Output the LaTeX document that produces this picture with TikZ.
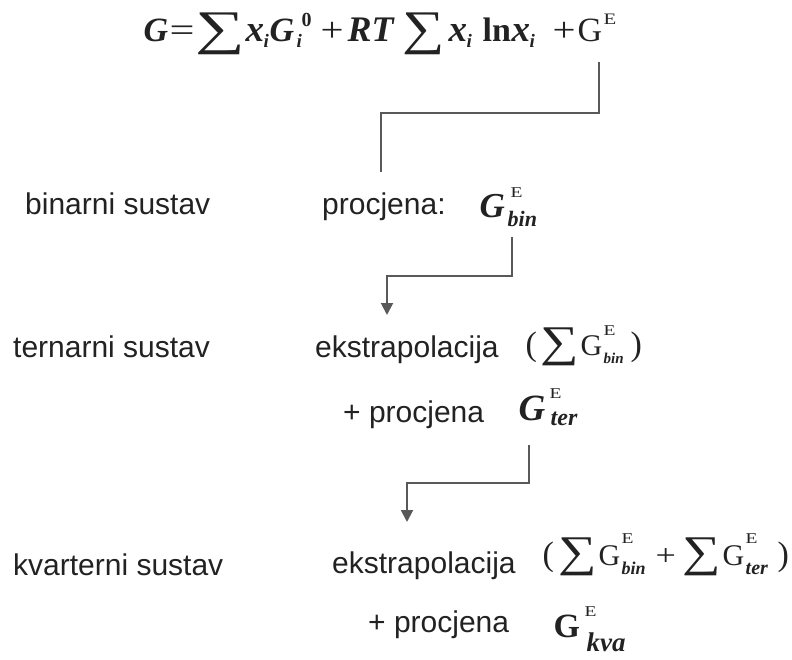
\documentclass[tikz,border=0pt]{standalone}
\usepackage{graphicx}
\usepackage{fontspec}
\setmainfont{Liberation Sans}
\newfontfamily\tnr{Liberation Serif}
\usetikzlibrary{arrows.meta}
% place #2 at horizontal offset #1 (zero width)
\newcommand\at[2]{\rlap{\hspace{#1}#2}}
\newcommand\fs[1]{\fontsize{#1}{#1}\selectfont}
\newcommand\bi{\tnr\bfseries\itshape}
\newcommand\Sg[4]{\raisebox{#4}{\scalebox{#2}[#3]{\tnr\fs{#1}∑}}}
\newcommand\Ex[1]{\scalebox{1.3}[1]{\tnr\fs{#1}E}}
\definecolor{ink}{HTML}{222222}
\definecolor{wire}{HTML}{595959}
\tikzset{
  lbl/.style={inner sep=0pt, anchor=base west, text=ink, font=\fontsize{30}{36}\selectfont},
  mth/.style={inner sep=0pt, anchor=base west, text=ink},
  conn/.style={draw=wire, line width=2pt},
  arr/.style={conn, -{Triangle[length=12pt,width=12pt]}}
}
\begin{document}
\begin{tikzpicture}[x=1pt,y=-1pt]
\useasboundingbox (0,0) rectangle (792,660);
% top equation
\node[mth] (eq) at (143,42) {%
  \at{0pt}{\bi\fs{34}G}%
  \at{26pt}{\scalebox{1.3}[1]{\tnr\fs{34}=}}%
  \at{52pt}{\Sg{34}{2.05}{1.42}{-3pt}}%
  \at{102pt}{\bi\fs{37}x}\at{120pt}{\raisebox{-6pt}{\bi\fs{19}i}}%
  \at{126pt}{\bi\fs{34}G}\at{153pt}{\raisebox{-6pt}{\bi\fs{19}i}}\at{158pt}{\raisebox{15pt}{\tnr\bfseries\fs{20}0}}%
  \at{177pt}{\scalebox{1.2}[1]{\tnr\fs{34}+}}%
  \at{204pt}{\bi\fs{36}RT}%
  \at{259pt}{\Sg{34}{1.75}{1.42}{-3pt}}%
  \at{305pt}{\bi\fs{37}x}\at{323pt}{\raisebox{-6pt}{\bi\fs{19}i}}%
  \at{339pt}{\tnr\bfseries\fs{34}ln}%
  \at{368pt}{\bi\fs{37}x}\at{386pt}{\raisebox{-6pt}{\bi\fs{19}i}}%
  \at{409pt}{\scalebox{1.2}[1]{\tnr\fs{34}+}}%
  \at{434pt}{\tnr\fs{34}G}\at{460pt}{\raisebox{17pt}{\Ex{16}}}%
  \hspace{478pt}};
% left labels
\node[lbl] (bin) at (25,215) {binarni sustav};
\node[lbl] (ter) at (13,357) {ternarni sustav};
\node[lbl] (kva) at (13,575) {kvarterni sustav};
% row 1
\node[lbl] (p1) at (322,215) {procjena:};
\node[mth] (g1) at (479,218) {%
  \at{0pt}{\bi\fs{35}G}\at{31pt}{\raisebox{20pt}{\Ex{15}}}\at{28pt}{\raisebox{-9pt}{\bi\fs{22}bin}}%
  \hspace{60pt}};
% row 2
\node[lbl] (e2) at (315,357) {ekstrapolacija};
\node[mth] (f2) at (525,355) {%
  \at{0pt}{\tnr\fs{34}(}%
  \at{15pt}{\Sg{30}{1.8}{1.46}{-1pt}}%
  \at{55pt}{\tnr\fs{30}G}\at{78pt}{\raisebox{20pt}{\Ex{15}}}\at{78pt}{\raisebox{-8pt}{\bi\fs{15}bin}}%
  \at{105pt}{\tnr\fs{34})}%
  \hspace{118pt}};
\node[lbl] (p2) at (343,422) {+ procjena};
\node[mth] (g2) at (518,420) {%
  \at{0pt}{\bi\fs{37}G}\at{31pt}{\raisebox{22pt}{\Ex{15}}}\at{32pt}{\raisebox{-5pt}{\bi\fs{24}ter}}%
  \hspace{62pt}};
% row 3
\node[lbl] (e3) at (332,573) {ekstrapolacija};
\node[mth] (f3) at (542,565) {%
  \at{0pt}{\tnr\fs{34}(}%
  \at{16pt}{\Sg{30}{1.8}{1.46}{-1pt}}%
  \at{56pt}{\tnr\fs{30}G}\at{79pt}{\raisebox{22pt}{\Ex{15}}}\at{79pt}{\raisebox{-9pt}{\bi\fs{18}bin}}%
  \at{113pt}{\scalebox{1.2}[1]{\tnr\fs{30}+}}%
  \at{140pt}{\Sg{30}{1.8}{1.46}{-1pt}}%
  \at{180pt}{\tnr\fs{30}G}\at{203pt}{\raisebox{22pt}{\Ex{15}}}\at{203pt}{\raisebox{-9pt}{\bi\fs{20}ter}}%
  \at{235pt}{\tnr\fs{34})}%
  \hspace{248pt}};
\node[lbl] (p3) at (368,632) {+ procjena};
\node[mth] (g3) at (553,637) {%
  \at{0pt}{\tnr\bfseries\fs{34}G}\at{31pt}{\raisebox{21pt}{\Ex{15}}}\at{33pt}{\raisebox{-14pt}{\bi\fs{27}kva}}%
  \hspace{75pt}};
% connectors
\coordinate (c1a) at (599,62);
\coordinate (c1b) at (381,172);
\draw[conn] (c1a) -- (599,113) -| (c1b);
\coordinate (c2a) at (512,237);
\coordinate (c2b) at (387,315);
\draw[arr] (c2a) -- (512,276) -| (c2b);
\coordinate (c3a) at (529,445);
\coordinate (c3b) at (407,522);
\draw[arr] (c3a) -- (529,483) -| (c3b);
\end{tikzpicture}
\end{document}
